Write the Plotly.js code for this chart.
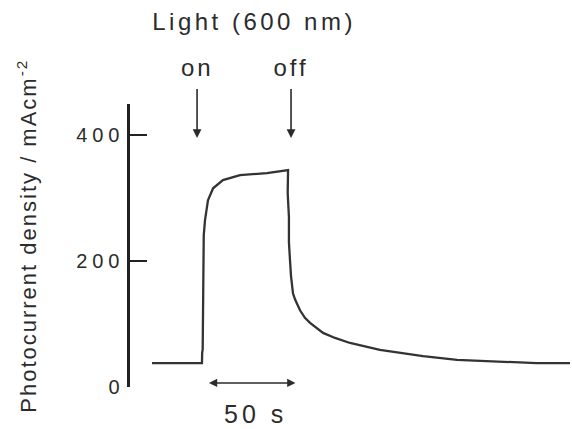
<!DOCTYPE html>
<html>
<head>
<meta charset="utf-8">
<script src="https://cdn.plot.ly/plotly-3.0.1.min.js"></script>
<style>
  html, body { margin: 0; padding: 0; background: #ffffff; }
  #chart { width: 572px; height: 429px; }
</style>
</head>
<body>
<div id="chart"></div>
<script>
// Photocurrent response to a 600 nm light pulse (time in s, current in mA cm^-2)
const timeS = [12.5, 40.9, 41.0, 41.3, 41.6, 41.9, 42.6, 44.3, 47.2, 52.8, 62.5, 77.8, 89.8,
               89.6, 90.3, 90.3, 90.9, 91.5, 92.6, 93.8, 96.6, 99.4, 102.3, 105.7, 109.7,
               116.5, 125.0, 142.0, 166.5, 185.8, 208.5, 231.0, 250.0];
const currentDensity = [38, 38, 54, 60, 150, 241, 265, 297, 316, 329, 337, 340, 345,
                        308, 270, 230, 202, 176, 149, 139, 122, 110, 102, 94, 86,
                        78, 70, 59, 49, 43, 41, 38, 38];

// y axis ticks
const yTickVals = [0, 200, 400];
const yTickText = ['0', '200', '400'];

// light switching markers
const markerTimes = [38.1, 91.5];
const markerLabels = ['on', 'off'];

// time scale bar
const scaleBarStart = 44;
const scaleBarLength = 50;
const scaleBarLevel = 6.4;
const scaleBarLabel = '50 s';

const ink = '#2b2b2b';
const font = 'Liberation Sans, Arial, Helvetica, sans-serif';

const trace = {
  x: timeS,
  y: currentDensity,
  type: 'scatter',
  mode: 'lines',
  line: { color: '#333333', width: 2.3 },
  hoverinfo: 'skip'
};

const annotations = [];
markerTimes.forEach(function (t, i) {
  // label with a down-pointing arrow
  annotations.push({
    xref: 'x', yref: 'paper', x: t, y: 0.88,
    ax: 0, ay: -70, text: markerLabels[i], showarrow: true,
    startstandoff: 6,
    arrowhead: 2, arrowsize: 1.1, arrowwidth: 1.6, arrowcolor: ink,
    font: { family: font, size: 24, color: ink }
  });
});
// scale bar (double-headed)
annotations.push({
  xref: 'x', yref: 'y', x: scaleBarStart + scaleBarLength, y: scaleBarLevel,
  axref: 'x', ayref: 'y', ax: scaleBarStart, ay: scaleBarLevel,
  text: '', showarrow: true, arrowside: 'end+start',
  arrowhead: 2, arrowsize: 1.1, arrowwidth: 1.5, arrowcolor: ink
});
annotations.push({
  xref: 'x', yref: 'paper', x: scaleBarStart + scaleBarLength / 2, y: -0.095, xshift: 4,
  text: scaleBarLabel, showarrow: false, xanchor: 'center', yanchor: 'middle',
  font: { family: font, size: 25, color: ink }
});
// vertical axis title
annotations.push({
  xref: 'paper', yref: 'paper', x: -0.236, y: 0.535,
  text: 'Photocurrent density / mAcm<sup>-2</sup>', showarrow: false,
  textangle: -90, xanchor: 'center', yanchor: 'middle',
  font: { family: font, size: 22, color: ink }
});

const layout = {
  width: 572, height: 429,
  margin: { l: 130, r: 2, t: 104, b: 42 },
  paper_bgcolor: '#ffffff', plot_bgcolor: '#ffffff',
  showlegend: false,
  title: {
    text: 'Light (600 nm)',
    xref: 'paper', x: 0.282, xanchor: 'center',
    yref: 'container', y: 0.949, yanchor: 'middle',
    font: { family: font, size: 24, color: ink }
  },
  xaxis: { range: [0, 250], visible: false, fixedrange: true },
  yaxis: {
    range: [0, 450], showline: true, linecolor: '#222222', linewidth: 3.5,
    ticks: 'inside', ticklen: 17, tickwidth: 2, tickcolor: '#222222',
    tickvals: yTickVals, ticktext: yTickText, ticklabelstandoff: -2,
    showgrid: false, zeroline: false, fixedrange: true,
    tickfont: { family: font, size: 20, color: ink }
  },
  annotations: annotations
};

Plotly.newPlot('chart', [trace], layout, { displayModeBar: false, staticPlot: true }).then(function (gd) {
  // looser tracking on the labels
  gd.querySelectorAll('text.gtitle').forEach(function (el) { el.style.letterSpacing = '3.5px'; });
  gd.querySelectorAll('g.ytick text').forEach(function (el) { el.style.letterSpacing = '5px'; });
  gd.querySelectorAll('text.annotation-text').forEach(function (el) {
    var s = el.textContent;
    if (s === scaleBarLabel) el.style.letterSpacing = '4px';
    else if (markerLabels.indexOf(s) >= 0) el.style.letterSpacing = '3px';
    else el.style.letterSpacing = '2px';
  });
});
</script>
</body>
</html>
